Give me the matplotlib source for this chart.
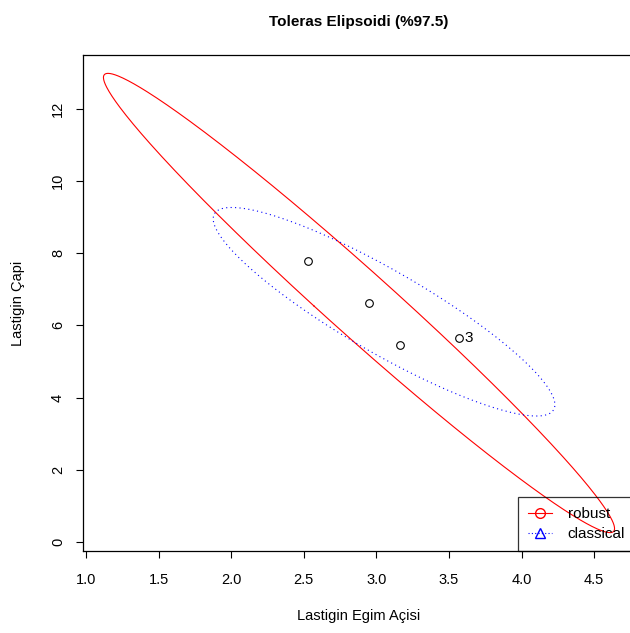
import matplotlib
matplotlib.use("Agg")
import matplotlib.pyplot as plt
from matplotlib.lines import Line2D
import numpy as np

plt.rcParams["font.family"] = ["Liberation Sans", "DejaVu Sans"]

egim = np.array([2.53, 2.95, 3.57, 3.16])
cap = np.array([7.78, 6.62, 5.65, 5.46])
outlier_idx = [2]          # 0-based; shown as "3"
robust_subset = [0, 1, 3]  # MCD half-sample
robust_factor = 4.08       # consistency / small-sample correction
level = 0.975

q = -2 * np.log(1 - level)  # chi-square quantile, 2 df


def ellipse_xy(center, cov, q, n=500):
    vals, vecs = np.linalg.eigh(cov)
    t = np.linspace(0, 2 * np.pi, n)
    circ = np.vstack([np.cos(t), np.sin(t)])
    pts = vecs @ (np.sqrt(vals * q)[:, None] * circ)
    return center[0] + pts[0], center[1] + pts[1]


data = np.column_stack([egim, cap])
cl_center = data.mean(axis=0)
cl_cov = np.cov(data, rowvar=False)
sub = data[robust_subset]
rb_center = sub.mean(axis=0)
rb_cov = robust_factor * np.cov(sub, rowvar=False)

fig = plt.figure(figsize=(6.3, 6.33), dpi=100)
ax = fig.add_axes([83 / 630, 82 / 633, (635 - 83) / 630, (551 - 55) / 633])

rx, ry = ellipse_xy(rb_center, rb_cov, q)
cx, cy = ellipse_xy(cl_center, cl_cov, q)
ax.plot(rx, ry, color="red", lw=0.8)
ax.plot(cx, cy, color="blue", lw=0.8, ls=(0, (1, 3)))
ax.plot(egim, cap, "o", mfc="none", mec="black", ms=5.5, mew=0.8)
for i in outlier_idx:
    ax.annotate(str(i + 1), (egim[i], cap[i]), xytext=(4, 0),
                textcoords="offset points", ha="left", va="center", fontsize=11)

ax.margins(0.04)
ax.set_xticks(np.arange(1.0, 4.51, 0.5))
ax.set_xticklabels([f"{v:.1f}" for v in np.arange(1.0, 4.51, 0.5)])
ax.set_yticks(np.arange(0, 13, 2))
for lab in ax.get_yticklabels():
    lab.set_rotation(90)
    lab.set_va("center")
ax.tick_params(direction="out", length=5, width=0.8, labelsize=10.5, pad=8)
ax.tick_params(axis="x", pad=11)
for s in ax.spines.values():
    s.set_linewidth(0.9)

ax.set_xlabel("Lastigin Egim Açisi", fontsize=10.5, labelpad=16)
ax.set_ylabel("Lastigin Çapi", fontsize=10.5, labelpad=19)
ax.set_title("Toleras Elipsoidi (%97.5)", fontsize=11, fontweight="bold", pad=21)

handles = [
    Line2D([], [], color="red", lw=0.8, marker="o", mfc="none", mec="red", ms=7),
    Line2D([], [], color="blue", lw=0.8, ls=(0, (1, 2)), marker="^", mfc="none",
           mec="blue", ms=7),
]
leg = ax.legend(handles, ["robust", "classical"], loc="lower right", fontsize=11,
                fancybox=False, edgecolor="black", borderaxespad=0,
                handlelength=1.6, handletextpad=1.0, labelspacing=0.4,
                borderpad=0.65)
leg.get_frame().set_facecolor("none")
leg.get_frame().set_linewidth(0.9)

fig.savefig("out.png", dpi=100)
